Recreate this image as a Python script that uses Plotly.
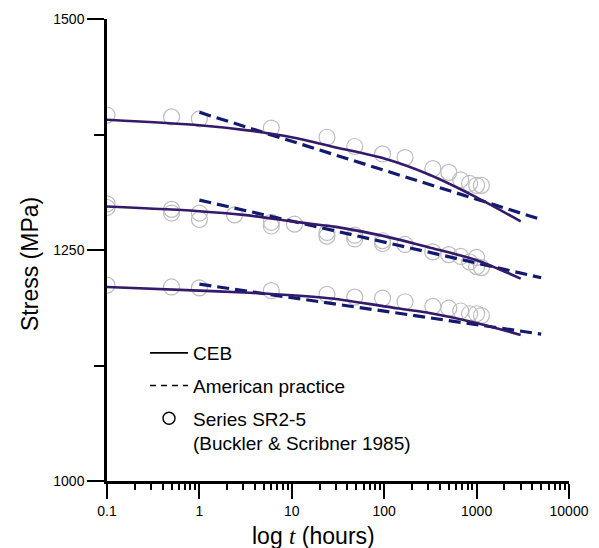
import plotly.graph_objects as go

# ---- data ----
ceb_t = [0.1, 1, 3, 10, 30, 100, 300, 1000, 3000]
ceb_top = [1391, 1385, 1380, 1372, 1361, 1349, 1332, 1307, 1281]
ceb_mid = [1297, 1292, 1288, 1281, 1275, 1265, 1253, 1239, 1219]
ceb_bot = [1210, 1206, 1204, 1201, 1197, 1189, 1182, 1171, 1158]

am_t = [1, 5000]
am_top = [1399, 1283]
am_mid = [1304, 1220]
am_bot = [1213, 1159]

sr_t_top = [0.1, 0.5, 1, 6, 24, 48, 96, 168, 336, 500, 672, 840, 1000, 1128]
sr_top = [1396, 1394, 1392, 1382, 1372, 1362, 1354, 1350, 1338, 1334, 1326, 1322, 1320, 1320]
sr_t_mid = [0.1, 0.1, 0.5, 0.5, 1, 1, 2.4, 6, 6, 10.7, 24, 24, 48, 48, 96, 96, 168,
            336, 500, 672, 840, 1000, 1000, 1128]
sr_mid = [1300, 1296, 1294, 1290, 1290, 1283, 1288, 1280, 1276, 1278, 1269, 1265,
          1266, 1262, 1260, 1257, 1256, 1248, 1245, 1243, 1237, 1242, 1232, 1231]
sr_t_bot = [0.1, 0.5, 1, 6, 24, 48, 96, 168, 336, 500, 672, 840, 1000, 1128]
sr_bot = [1212, 1210, 1209, 1206, 1202, 1199, 1198, 1194, 1189, 1187, 1184, 1181, 1181, 1179]

x_tickvals = [0.1, 1, 10, 100, 1000, 10000]
x_ticktext = ["0.1", "1", "10", "100", "1000", "10000"]
y_tickvals = [1000, 1250, 1500]

CEB_COLOR = "#35196b"
AM_COLOR = "#111a6e"
SR_COLOR = "#bdbdbd"

fig = go.Figure()

# scatter circles
for tt, ss in [(sr_t_top, sr_top), (sr_t_mid, sr_mid), (sr_t_bot, sr_bot)]:
    fig.add_trace(go.Scatter(x=tt, y=ss, mode="markers", showlegend=False,
                             marker=dict(symbol="circle-open", size=16,
                                         color=SR_COLOR, line=dict(width=1.2, color=SR_COLOR))))
# American practice
for ss in [am_top, am_mid, am_bot]:
    fig.add_trace(go.Scatter(x=am_t, y=ss, mode="lines", showlegend=False,
                             line=dict(color=AM_COLOR, width=3.2, dash="12px,6px")))
# CEB
for ss in [ceb_top, ceb_mid, ceb_bot]:
    fig.add_trace(go.Scatter(x=ceb_t, y=ss, mode="lines", showlegend=False,
                             line=dict(color=CEB_COLOR, width=2.6, shape="spline", smoothing=0.8)))

# legend entries
fig.add_trace(go.Scatter(x=[None], y=[None], mode="lines", name="CEB", legendgroup="a",
                         line=dict(color="black", width=1.6)))
fig.add_trace(go.Scatter(x=[None], y=[None], mode="lines", name="American practice", legendgroup="b",
                         line=dict(color="black", width=1.6, dash="6px,5px")))
fig.add_trace(go.Scatter(x=[None], y=[None], mode="markers",
                         name="Series SR2-5<br>(Buckler & Scribner 1985)", legendgroup="c",
                         marker=dict(symbol="circle-open", size=12, color="black",
                                     line=dict(width=1.4, color="black"))))

OFF = 8  # default page body margin
W, H = 591, 540
L, R, T, B = 99, 30, 11, 67
pw, ph = W - L - R, H - T - B

def px(xp):  # page pixel x -> paper
    return (xp - OFF - L) / pw

def py(yp):  # page pixel y -> paper
    return (H - B - (yp - OFF)) / ph

fig.update_layout(
    width=W, height=H,
    margin=dict(l=L, r=R, t=T, b=B),
    paper_bgcolor="white", plot_bgcolor="white",
    font=dict(family="Liberation Sans, Arial, sans-serif", color="black", size=14),
    showlegend=True,
    legend=dict(x=px(145), y=py(334), xanchor="left", yanchor="top",
                bgcolor="rgba(0,0,0,0)", font=dict(size=19), valign="top",
                traceorder="grouped", tracegroupgap=5, itemwidth=38),
    xaxis=dict(type="log", range=[-1, 4], showgrid=False, zeroline=False,
               automargin=False,
               showline=True, linecolor="black", linewidth=2.5,
               tickvals=x_tickvals, ticktext=x_ticktext,
               ticks="outside", ticklen=15, tickwidth=2, tickcolor="black",
               tickfont=dict(size=14),
               minor=dict(ticks="outside", ticklen=6, tickwidth=2, tickcolor="black",
                          dtick="D1", showgrid=False)),
    yaxis=dict(range=[1000, 1500], showgrid=False, zeroline=False,
               automargin=False,
               showline=True, linecolor="black", linewidth=2.5,
               tickvals=y_tickvals,
               ticks="outside", ticklen=17, tickwidth=2, tickcolor="black",
               tickfont=dict(size=14),
               minor=dict(ticks="outside", ticklen=10, tickwidth=2, tickcolor="black",
                          dtick=125, showgrid=False)),
    annotations=[
        dict(text="log <span style=\"font-family:'Liberation Serif'\"><i>t</i></span> (hours)",
             x=px(313), y=py(536), xref="paper", yref="paper",
             xanchor="center", yanchor="middle", showarrow=False,
             font=dict(size=23)),
        dict(text="Stress (MPa)", x=px(30), y=py(264), xref="paper", yref="paper",
             xanchor="center", yanchor="middle", showarrow=False, textangle=-90,
             font=dict(size=23)),
    ],
)

fig.write_html("out.html")
